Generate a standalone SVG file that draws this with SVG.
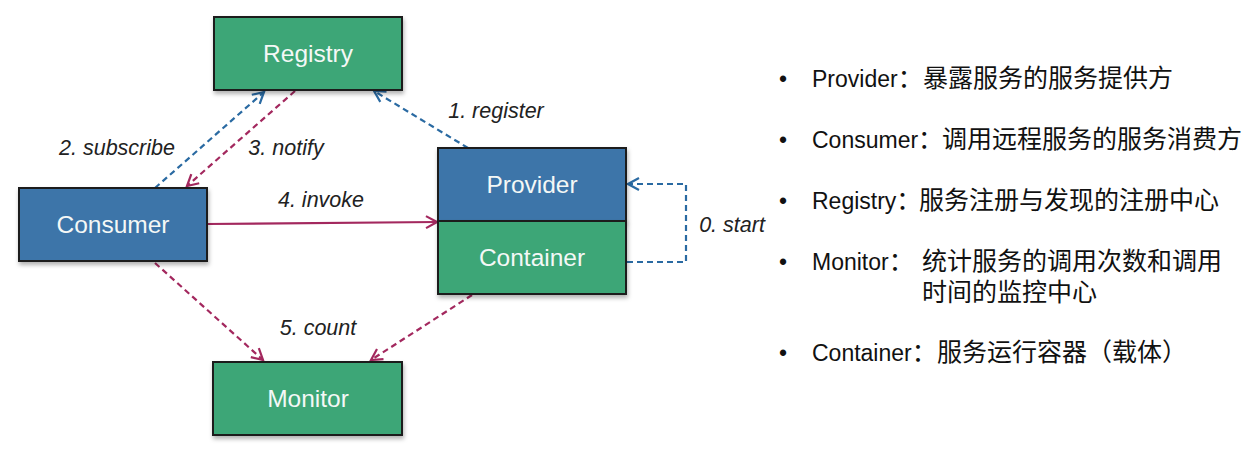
<svg xmlns="http://www.w3.org/2000/svg" width="1250" height="456" viewBox="0 0 1250 456">
<defs>
<style>
.box{stroke:#1b1b1b;stroke-width:2}
.green{fill:#3ea677}
.blue{fill:#3d74a9}
.nl{font-family:"Liberation Sans",Arial,sans-serif;font-size:24.5px;fill:#f4f8f6;text-anchor:middle}
.el{font-family:"Liberation Sans",Arial,sans-serif;font-size:21.5px;font-style:italic;fill:#222;text-anchor:middle}
.cb{fill:none;stroke:#2a6aa2;stroke-width:2.2;stroke-dasharray:6 4}
.cm{fill:none;stroke:#a3285e;stroke-width:2.2}
.dash{stroke-dasharray:6 4}
.rt{font-family:"Liberation Sans","Noto Sans CJK SC",sans-serif;font-size:23px;fill:#111}
.cjk{font-family:"Noto Sans CJK SC",sans-serif;font-size:25px}
</style>
<filter id="sh" x="-10%" y="-10%" width="130%" height="140%">
<feDropShadow dx="1" dy="3" stdDeviation="2" flood-color="#000" flood-opacity="0.3"/>
</filter>
<marker id="ab" markerUnits="userSpaceOnUse" markerWidth="16" markerHeight="16" viewBox="0 0 16 16" refX="14" refY="8" orient="auto">
<path d="M3,2 L14,8 L3,14" fill="none" stroke="#2a6aa2" stroke-width="2.2"/>
</marker>
<marker id="am" markerUnits="userSpaceOnUse" markerWidth="16" markerHeight="16" viewBox="0 0 16 16" refX="14" refY="8" orient="auto">
<path d="M3,2 L14,8 L3,14" fill="none" stroke="#a3285e" stroke-width="2.2"/>
</marker>
</defs>
<rect width="1250" height="456" fill="#fff"/>

<g id="connectors">
<path class="cb" d="M468,148 L374,91" marker-end="url(#ab)"/>
<path class="cb" d="M155,188 L264,92" marker-end="url(#ab)"/>
<path class="cm dash" d="M295,91 L187,186" marker-end="url(#am)"/>
<path class="cm" d="M207,224 L437,222" marker-end="url(#am)"/>
<path class="cb" d="M627,262 H686 V184 H628" marker-end="url(#ab)"/>
<path class="cm dash" d="M155,263 L263,360" marker-end="url(#am)"/>
<path class="cm dash" d="M472,295 L371,360" marker-end="url(#am)"/>
<text class="el" x="496" y="118">1. register</text>
<text class="el" x="117" y="155">2. subscribe</text>
<text class="el" x="286" y="155">3. notify</text>
<text class="el" x="321" y="207">4. invoke</text>
<text class="el" x="732" y="232">0. start</text>
<text class="el" x="318" y="335">5. count</text>
</g>

<g id="registry">
<rect class="box green" x="214" y="17" width="188" height="73" filter="url(#sh)"/>
<text class="nl" x="308" y="62">Registry</text>
</g>
<g id="consumer">
<rect class="box blue" x="19" y="188" width="188" height="73" filter="url(#sh)"/>
<text class="nl" x="113" y="233">Consumer</text>
</g>
<g id="provider">
<rect class="box blue" x="438" y="148" width="188" height="73" filter="url(#sh)"/>
<text class="nl" x="532" y="193">Provider</text>
</g>
<g id="container">
<rect class="box green" x="438" y="221" width="188" height="73" filter="url(#sh)"/>
<text class="nl" x="532" y="266">Container</text>
</g>
<g id="monitor">
<rect class="box green" x="213" y="362" width="189" height="73" filter="url(#sh)"/>
<text class="nl" x="308" y="407">Monitor</text>
</g>

<g id="legend">
<text class="rt" x="779" y="87">•</text>
<text class="rt" x="812" y="87">Provider<tspan class="cjk">：</tspan><tspan class="cjk" x="923">暴露服务的服务提供方</tspan></text>
<text class="rt" x="779" y="148">•</text>
<text class="rt" x="812" y="148">Consumer<tspan class="cjk">：</tspan><tspan class="cjk" x="942">调用远程服务的服务消费方</tspan></text>
<text class="rt" x="779" y="209">•</text>
<text class="rt" x="812" y="209">Registry<tspan class="cjk">：</tspan><tspan class="cjk" x="919">服务注册与发现的注册中心</tspan></text>
<text class="rt" x="779" y="270">•</text>
<text class="rt" x="812" y="270">Monitor<tspan class="cjk">：</tspan><tspan class="cjk" x="922">统计服务的调用次数和调用</tspan></text>
<text class="rt" x="922" y="301"><tspan class="cjk">时间的监控中心</tspan></text>
<text class="rt" x="779" y="361">•</text>
<text class="rt" x="812" y="361">Container<tspan class="cjk">：</tspan><tspan class="cjk" x="937">服务运行容器（载体）</tspan></text>
</g>
</svg>
